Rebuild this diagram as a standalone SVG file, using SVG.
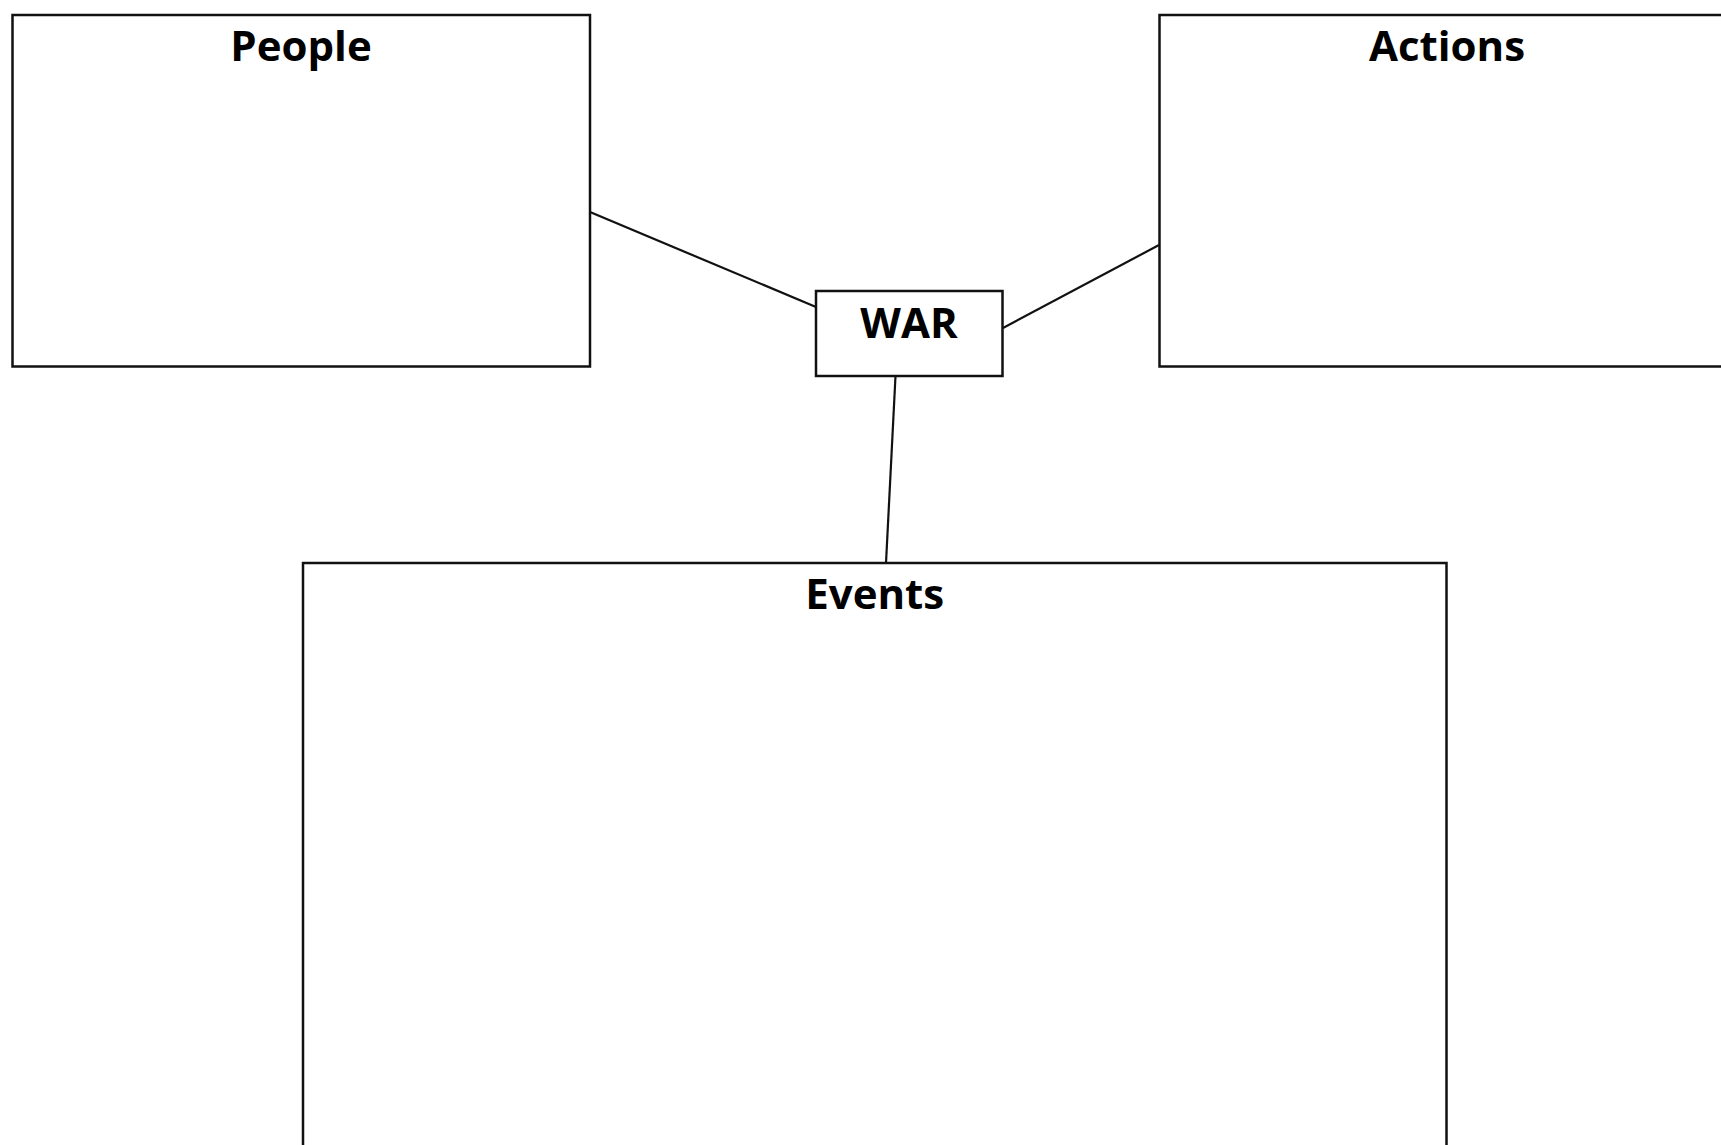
<svg xmlns="http://www.w3.org/2000/svg" width="1721" height="1145" viewBox="0 0 1721 1145">
<style>
.box{fill:#fff;stroke:#111;stroke-width:2.5}
.lbl{font-family:"Open Sans","Noto Sans","DejaVu Sans",sans-serif;font-weight:bold;font-size:42px;fill:#000;text-anchor:middle}
.con{stroke:#111;stroke-width:2.2;fill:none}
</style>
<rect width="1721" height="1145" fill="#fff"/>
<g id="connectors">
<line class="con" x1="590" y1="212" x2="816" y2="307"/>
<line class="con" x1="1003" y1="328" x2="1159" y2="245"/>
<line class="con" x1="895.5" y1="376" x2="886" y2="563"/>
</g>
<g id="people">
<rect class="box" x="12.5" y="15" width="577.5" height="351.5"/>
<text class="lbl" x="301" y="61">People</text>
</g>
<g id="actions">
<rect class="box" x="1159.5" y="15" width="575" height="351.5"/>
<text class="lbl" x="1447" y="61">Actions</text>
</g>
<g id="war">
<rect class="box" x="816" y="291" width="186.5" height="85"/>
<text class="lbl" x="909" y="338">WAR</text>
</g>
<g id="events">
<rect class="box" x="303" y="563" width="1143.5" height="620"/>
<text class="lbl" x="874.7" y="609">Events</text>
</g>
</svg>
